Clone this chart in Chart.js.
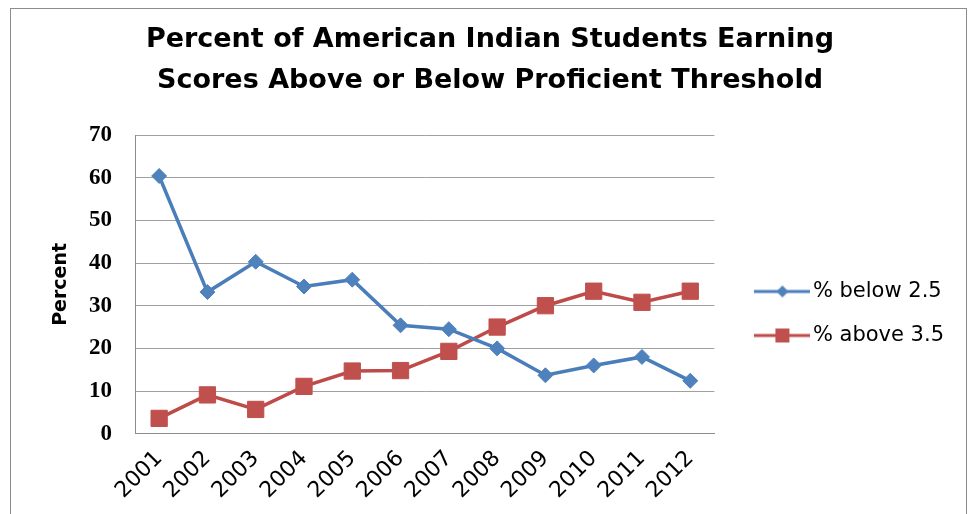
<!DOCTYPE html>
<html><head><meta charset="utf-8">
<script src="https://cdn.jsdelivr.net/npm/chart.js@4.4.1/dist/chart.umd.min.js"></script>
<style>
html,body{margin:0;padding:0;background:#fff;}
#wrap{position:relative;width:970px;height:514px;overflow:hidden;background:#fff;}
#frame{position:absolute;left:10px;top:8px;width:955px;height:540px;border:1px solid #8c8c8c;pointer-events:none;}
canvas{position:absolute;left:0;top:0;}
</style></head><body>
<div id="wrap"><canvas id="c" width="970" height="514"></canvas><div id="frame"></div></div>
<script>
const years = ['2001','2002','2003','2004','2005','2006','2007','2008','2009','2010','2011','2012'];
const below25 = [60.4, 33.2, 40.3, 34.5, 36.1, 25.4, 24.5, 20.0, 13.7, 16.0, 18.0, 12.4];
const above35 = [3.6, 9.1, 5.7, 11.1, 14.7, 14.8, 19.3, 25.0, 30.0, 33.4, 30.8, 33.4];
const seriesNames = ['% below 2.5', '% above 3.5'];
const titleLines = ['Percent of American Indian Students Earning', 'Scores Above or Below Proficient Threshold'];
const yAxisTitle = 'Percent';

const blue = '#4A7EBB', blueMk = '#4F81BD';
const red = '#BE4B48', redMk = '#C0504D';

function legendIcon(color, mk, shape) {
  const c = document.createElement('canvas');
  c.width = 56; c.height = 20;
  const x = c.getContext('2d');
  x.strokeStyle = color; x.lineWidth = 3;
  x.beginPath(); x.moveTo(0, 10); x.lineTo(56, 10); x.stroke();
  x.fillStyle = mk;
  if (shape === 'diamond') {
    x.beginPath(); x.moveTo(22, 10); x.lineTo(28, 4); x.lineTo(34, 10); x.lineTo(28, 16); x.closePath(); x.fill();
  } else {
    x.fillRect(21, 3, 14, 14);
  }
  return c;
}
const icons = [legendIcon(blue, blueMk, 'diamond'), legendIcon(red, redMk, 'square')];

new Chart(document.getElementById('c'), {
  type: 'line',
  data: {
    labels: years,
    datasets: [
      { label: seriesNames[0], data: below25, borderColor: blue, backgroundColor: blueMk, borderWidth: 3.5,
        pointStyle: 'rectRot', pointRadius: 7.5, pointBorderColor: blueMk, pointBackgroundColor: blueMk, pointBorderWidth: 1, tension: 0, fill: false },
      { label: seriesNames[1], data: above35, borderColor: red, backgroundColor: redMk, borderWidth: 3.5,
        pointStyle: 'rect', pointRadius: 11.5, pointBorderColor: redMk, pointBackgroundColor: redMk, pointBorderWidth: 1, tension: 0, fill: false }
    ]
  },
  options: {
    responsive: false, animation: false, devicePixelRatio: 1,
    layout: { padding: { left: 26, top: 0, right: 16, bottom: 6 } },
    plugins: {
      tooltip: { enabled: false },
      title: {
        display: true, text: titleLines, color: '#000',
        font: { family: 'DejaVu Sans', weight: 'bold', size: 27, lineHeight: 1.5 },
        padding: { top: 20, bottom: 34 }
      },
      legend: {
        position: 'right', align: 'center', maxWidth: 320,
        title: { display: true, text: ' ', font: { size: 10, lineHeight: 1.2 }, padding: { top: 107, bottom: 0 } },
        labels: {
          usePointStyle: true, pointStyleWidth: 40, padding: 23, color: '#000',
          font: { family: 'DejaVu Sans', size: 21 },
          generateLabels: (chart) => chart.data.datasets.map((ds, i) => ({
            text: ds.label, pointStyle: icons[i], fillStyle: ds.backgroundColor, strokeStyle: ds.borderColor,
            lineWidth: 0, hidden: false, datasetIndex: i, fontColor: '#000'
          }))
        }
      }
    },
    scales: {
      x: {
        offset: true,
        grid: { display: false },
        border: { display: true, color: '#8c8c8c', width: 1 },
        ticks: { autoSkip: false, minRotation: 45, maxRotation: 45, padding: 4, color: '#000',
          font: { family: 'DejaVu Sans', size: 22 } }
      },
      y: {
        min: 0, max: 70,
        afterFit: (s) => { s.width = 109; },
        grid: { color: '#a0a0a0', lineWidth: 1, drawTicks: false },
        border: { display: true, color: '#8c8c8c', width: 1 },
        ticks: { stepSize: 10, padding: 23, color: '#000',
          font: { family: 'Liberation Serif', weight: 'bold', size: 23 } },
        title: { display: true, text: yAxisTitle, color: '#000', padding: { top: 24, bottom: 0 },
          font: { family: 'DejaVu Sans', weight: 'bold', size: 19 } }
      },
      yR: {
        type: 'linear', position: 'right', min: 0, max: 1,
        afterFit: (s) => { s.width = 25; },
        grid: { display: false }, border: { display: false }, ticks: { display: false }
      }
    }
  }
});
</script>
</body></html>
